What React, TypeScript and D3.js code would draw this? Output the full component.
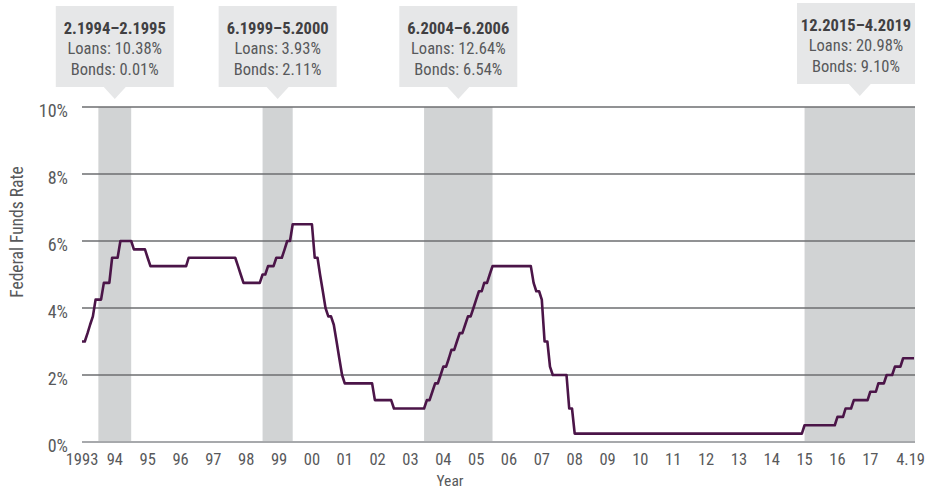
import React from 'react';
import * as d3 from 'd3';

// monthly fed funds rate, vertices only (month, %)
const rateData: [string, number][] = [
  ['1993-12', 3.0], ['1994-01', 3.0], ['1994-02', 3.25], ['1994-03', 3.5], ['1994-04', 3.75],
  ['1994-05', 4.25], ['1994-07', 4.25], ['1994-08', 4.75], ['1994-10', 4.75], ['1994-11', 5.5],
  ['1995-01', 5.5], ['1995-02', 6.0], ['1995-06', 6.0], ['1995-07', 5.75], ['1995-11', 5.75],
  ['1995-12', 5.5], ['1996-01', 5.25], ['1997-02', 5.25], ['1997-03', 5.5], ['1998-08', 5.5],
  ['1998-09', 5.25], ['1998-10', 5.0], ['1998-11', 4.75], ['1999-05', 4.75], ['1999-06', 5.0],
  ['1999-07', 5.0], ['1999-08', 5.25], ['1999-10', 5.25], ['1999-11', 5.5], ['2000-01', 5.5],
  ['2000-02', 5.75], ['2000-03', 6.0], ['2000-04', 6.0], ['2000-05', 6.5], ['2000-12', 6.5],
  ['2001-01', 5.5], ['2001-02', 5.5], ['2001-03', 5.0], ['2001-04', 4.5], ['2001-05', 4.0],
  ['2001-06', 3.75], ['2001-07', 3.75], ['2001-08', 3.5], ['2001-09', 3.0], ['2001-10', 2.5],
  ['2001-11', 2.0], ['2001-12', 1.75], ['2002-10', 1.75], ['2002-11', 1.25], ['2003-05', 1.25],
  ['2003-06', 1.0], ['2004-05', 1.0], ['2004-06', 1.25], ['2004-07', 1.25], ['2004-08', 1.5],
  ['2004-09', 1.75], ['2004-10', 1.75], ['2004-11', 2.0], ['2004-12', 2.25], ['2005-01', 2.25],
  ['2005-02', 2.5], ['2005-03', 2.75], ['2005-04', 2.75], ['2005-05', 3.0], ['2005-06', 3.25],
  ['2005-07', 3.25], ['2005-08', 3.5], ['2005-09', 3.75], ['2005-10', 3.75], ['2005-11', 4.0],
  ['2005-12', 4.25], ['2006-01', 4.5], ['2006-02', 4.5], ['2006-03', 4.75], ['2006-04', 4.75],
  ['2006-05', 5.0], ['2006-06', 5.25], ['2007-08', 5.25], ['2007-09', 4.75], ['2007-10', 4.5],
  ['2007-11', 4.5], ['2007-12', 4.25], ['2008-01', 3.0], ['2008-02', 3.0], ['2008-03', 2.25],
  ['2008-04', 2.0], ['2008-09', 2.0], ['2008-10', 1.0], ['2008-11', 1.0], ['2008-12', 0.25],
  ['2015-11', 0.25], ['2015-12', 0.5], ['2016-11', 0.5], ['2016-12', 0.75], ['2017-02', 0.75],
  ['2017-03', 1.0], ['2017-05', 1.0], ['2017-06', 1.25], ['2017-11', 1.25], ['2017-12', 1.5],
  ['2018-02', 1.5], ['2018-03', 1.75], ['2018-05', 1.75], ['2018-06', 2.0], ['2018-08', 2.0],
  ['2018-09', 2.25], ['2018-11', 2.25], ['2018-12', 2.5], ['2019-04', 2.5],
];

// shaded periods as drawn
const bandStarts = ['1994-06', '1999-06', '2004-05', '2015-12'];
const bandEnds = ['1995-06', '2000-05', '2006-06', '2019-04'];
const bandTitles = ['2.1994–2.1995', '6.1999–5.2000', '6.2004–6.2006', '12.2015–4.2019'];
const bandLoans = ['10.38%', '3.93%', '12.64%', '20.98%'];
const bandBonds = ['0.01%', '2.11%', '6.54%', '9.10%'];

const tickMonths = [
  '1993-12', '1994-12', '1995-12', '1996-12', '1997-12', '1998-12', '1999-12', '2000-12',
  '2001-12', '2002-12', '2003-12', '2004-12', '2005-12', '2006-12', '2007-12', '2008-12',
  '2009-12', '2010-12', '2011-12', '2012-12', '2013-12', '2014-12', '2015-12', '2016-12',
  '2017-12', '2019-04',
];
const tickLabels = [
  '1993', '94', '95', '96', '97', '98', '99', '00', '01', '02', '03', '04', '05', '06', '07',
  '08', '09', '10', '11', '12', '13', '14', '15', '16', '17', '4.19',
];
const yTicks = [0, 2, 4, 6, 8, 10];

const FONT = "'Liberation Sans Narrow', 'Roboto Condensed', 'Liberation Sans', sans-serif";

export default function App() {
  const width = 927;
  const height = 491;
  const parse = d3.timeParse('%Y-%m');
  const pm = (s: string) => parse(s) as Date;

  const x = d3.scaleTime().domain([pm('1993-12'), pm('2019-04')]).range([82, 914]);
  const y = d3.scaleLinear().domain([0, 10]).range([442, 107]);
  const gridRight = 915;

  const line = d3
    .line<[string, number]>()
    .x((d) => x(pm(d[0])))
    .y((d) => y(d[1]));

  const boxW = 118;
  const boxH = 81;
  const last = tickMonths.length - 1;

  return (
    <svg
      width={width}
      height={height}
      style={{ position: 'absolute', left: 0, top: 0, background: '#fff' }}
      fontFamily={FONT}
    >
      {bandStarts.map((s, i) => (
        <rect
          key={'band' + i}
          x={x(pm(s))}
          y={y(10)}
          width={(i === 3 ? gridRight : x(pm(bandEnds[i]))) - x(pm(s))}
          height={y(0) - y(10)}
          fill="#d1d3d4"
        />
      ))}

      {yTicks.map((t) => (
        <g key={'y' + t}>
          <line
            x1={x.range()[0]}
            x2={gridRight}
            y1={y(t)}
            y2={y(t)}
            stroke={t === 0 ? '#a7a9ac' : '#6d6e71'}
            strokeWidth={t === 0 ? 2 : 1.4}
          />
          <text
            x={68}
            y={y(t) + 5}
            textAnchor="end"
            dominantBaseline="middle"
            fontSize={18}
            fill="#58595b"
          >
            {t}%
          </text>
        </g>
      ))}

      {tickMonths.map((m, i) => (
        <text
          key={'x' + m}
          x={i === last ? x(pm(m)) + 11 : x(pm(m))}
          y={461}
          textAnchor={i === last ? 'end' : 'middle'}
          dominantBaseline="middle"
          fontSize={16.5}
          fill="#58595b"
        >
          {tickLabels[i]}
        </text>
      ))}

      <path d={line(rateData) || ''} fill="none" stroke="#4b1548" strokeWidth={2.6} strokeLinejoin="round" />

      {bandStarts.map((s, i) => {
        const cx = (x(pm(s)) + (i === 3 ? gridRight : x(pm(bandEnds[i])))) / 2;
        const left = Math.min(cx - boxW / 2, gridRight - boxW);
        const top = i === 3 ? 3 : 6;
        const mid = left + boxW / 2;
        return (
          <g key={'call' + i}>
            <rect x={left} y={top} width={boxW} height={boxH} fill="#e6e7e8" />
            <path
              d={`M${cx - 11},${top + boxH} L${cx + 11},${top + boxH} L${cx},${top + boxH + 12} Z`}
              fill="#e6e7e8"
            />
            <text x={mid} y={top + 28} textAnchor="middle" fontSize={16.5} fontWeight="bold" fill="#414042">
              {bandTitles[i]}
            </text>
            <text x={mid} y={top + 48} textAnchor="middle" fontSize={16.5} fill="#58595b">
              Loans: {bandLoans[i]}
            </text>
            <text x={mid} y={top + 69} textAnchor="middle" fontSize={16.5} fill="#58595b">
              Bonds: {bandBonds[i]}
            </text>
          </g>
        );
      })}

      <text
        transform={`translate(18,232) rotate(-90)`}
        textAnchor="middle"
        dominantBaseline="middle"
        fontSize={17.5}
        fill="#58595b"
      >
        Federal Funds Rate
      </text>
      <text x={450} y={486} textAnchor="middle" fontSize={15.5} fill="#58595b">
        Year
      </text>
    </svg>
  );
}
